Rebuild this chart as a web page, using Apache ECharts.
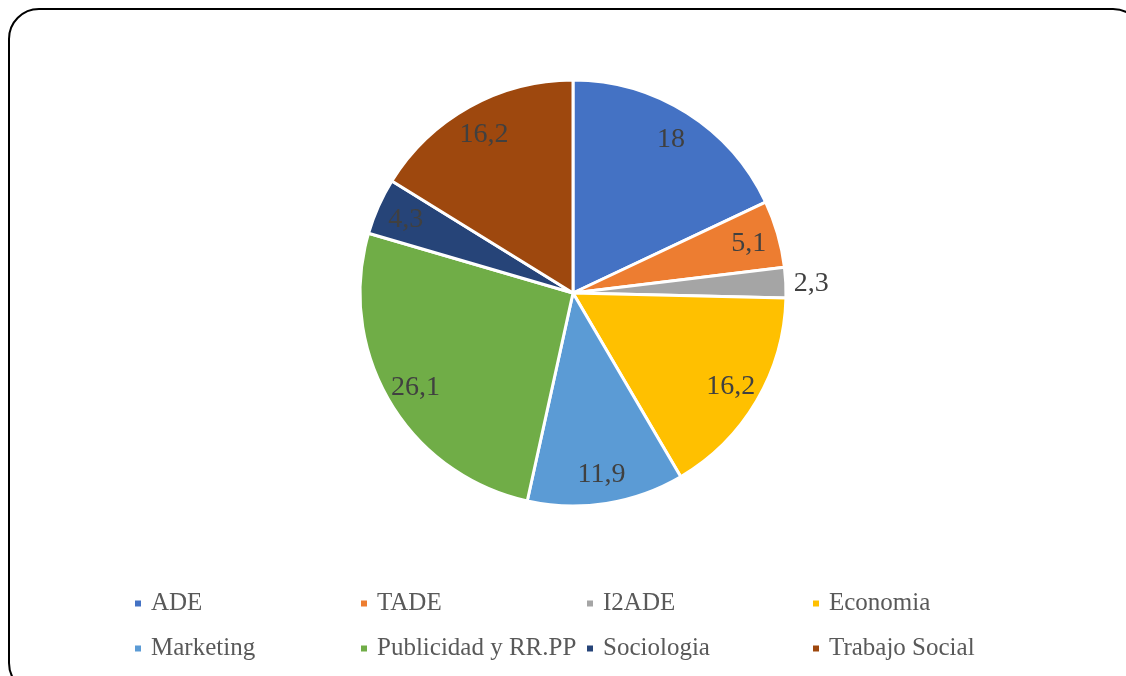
<!DOCTYPE html>
<html>
<head>
<meta charset="utf-8">
<script src="https://cdn.jsdelivr.net/npm/echarts@6/dist/echarts.min.js"></script>
<style>
  html, body { margin: 0; padding: 0; background: #fff; }
  #main { width: 1126px; height: 676px; }
</style>
</head>
<body>
<div id="main"></div>
<script>
// categorias y porcentajes
var categorias = ["ADE", "TADE", "I2ADE", "Economia", "Marketing", "Publicidad y RR.PP", "Sociologia", "Trabajo Social"];
var valores = [18, 5.1, 2.3, 16.2, 11.9, 26.1, 4.3, 16.2];
var colores = ["#4472C4", "#ED7D31", "#A5A5A5", "#FFC000", "#5B9BD5", "#70AD47", "#264478", "#9E480E"];

var serif = "'Liberation Serif', 'Times New Roman', serif";

var chart = echarts.init(document.getElementById("main"));

var datos = categorias.map(function (c, i) {
  return { name: c, value: valores[i], itemStyle: { color: colores[i] } };
});

// serie transparente solo para colocar las etiquetas cerca del borde
var etiquetas = categorias.map(function (c, i) {
  var d = { name: c, value: valores[i] };
  if (c === "I2ADE") {
    d.label = { position: "outside", distanceToLabelLine: 5 };
    d.labelLine = { show: false, length: 3, length2: 0 };
  }
  return d;
});

var fmt = function (p) { return String(p.value).replace(".", ","); };

var option = {
  animation: false,
  textStyle: { fontFamily: serif },
  graphic: [{
    type: "rect",
    shape: { x: 9, y: 9, width: 1134, height: 684, r: 30 },
    style: { fill: null, stroke: "#000", lineWidth: 2 },
    silent: true
  }],
  legend: {
    data: categorias,
    left: 133,
    top: 585,
    width: 910,
    padding: 0,
    icon: "rect",
    itemWidth: 8,
    itemHeight: 8,
    itemGap: 8,
    textStyle: {
      fontFamily: serif,
      fontSize: 25,
      color: "#595959",
      width: 200,
      lineHeight: 37,
      padding: [0, 0, 0, 4]
    }
  },
  series: [
    {
      type: "pie",
      center: [573, 293],
      radius: 213,
      startAngle: 90,
      silent: true,
      itemStyle: { borderColor: "#fff", borderWidth: 3 },
      label: { show: false },
      labelLine: { show: false },
      data: datos
    },
    {
      type: "pie",
      center: [573, 294],
      radius: [147, 213],
      startAngle: 90,
      silent: true,
      itemStyle: { color: "rgba(0,0,0,0)", borderWidth: 0 },
      label: {
        show: true,
        position: "inside",
        formatter: fmt,
        fontFamily: serif,
        fontSize: 28,
        color: "#404040"
      },
      labelLine: { show: false },
      data: etiquetas
    }
  ]
};

chart.setOption(option);
</script>
</body>
</html>
